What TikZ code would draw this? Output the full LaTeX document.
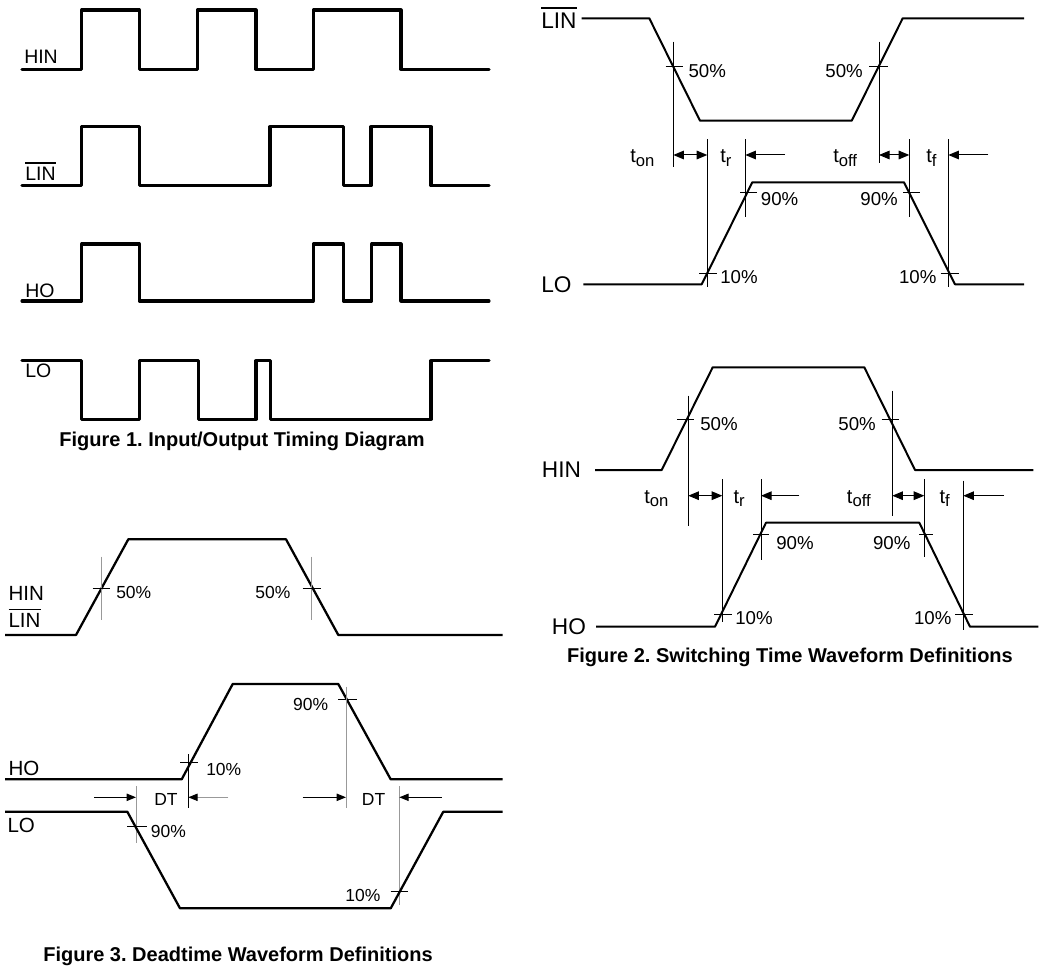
\documentclass[tikz,border=0pt]{standalone}
\usepackage{fontspec}
\setmainfont{Liberation Sans}
\usetikzlibrary{arrows.meta}
\frenchspacing
\newcommand{\ovtext}[3]{\vbox{\hrule height #1\kern #2\hbox{#3}}}
\newcommand{\tsb}[1]{t\raisebox{-2.6pt}{\fontsize{12.5}{12.5}\selectfont #1}}
\begin{document}
\begin{tikzpicture}[x=0.75pt,y=-0.75pt,
  waveA/.style={line width=2.3pt,line join=round,line cap=round},
  waveB/.style={line width=1.5pt,line join=round},
  waveC/.style={line width=1.7pt,line join=round},
  guide/.style={line width=0.75pt},
  gguide/.style={line width=0.75pt,draw=black!40},
  tick/.style={line width=0.75pt},
  arrB/.style={line width=0.75pt,-{Triangle[length=8pt,width=6.5pt]}},
  darrB/.style={line width=0.75pt,{Triangle[length=8pt,width=6.5pt]}-{Triangle[length=8pt,width=6.5pt]}},
  arrC/.style={line width=0.75pt,-{Triangle[length=7pt,width=5.5pt]}},
  lA/.style={anchor=base west,inner sep=0,font=\fontsize{14.6}{14.6}\selectfont},
  lB/.style={anchor=base west,inner sep=0,font=\fontsize{17}{17}\selectfont},
  pB/.style={anchor=base west,inner sep=0,font=\fontsize{14}{14}\selectfont},
  lC/.style={anchor=base west,inner sep=0,font=\fontsize{15.4}{15.4}\selectfont},
  pC/.style={anchor=base west,inner sep=0,font=\fontsize{13.1}{13.1}\selectfont},
  tl/.style={anchor=base west,inner sep=0,font=\fontsize{15}{15}\selectfont},
  capt/.style={anchor=base,inner sep=0,font=\fontsize{15}{15}\selectfont\bfseries}]
\useasboundingbox (0,0) rectangle (1048,973);

% ---------------- Figure 1 ----------------
\draw[waveA] (22,69.3) -| (81.7,10) -| (139.3,69.3) -| (197.3,10) -| (256,69.3) -| (313.3,10) -| (401,69.3) -- (489,69.3);
\draw[waveA] (22,185.7) -| (81.7,126.7) -| (139.3,185.7) -| (270,126.7) -| (343.3,185.7) -| (371,126.7) -| (431,185.7) -- (489,185.7);
\draw[waveA] (22,301) -| (81.7,244) -| (139.3,301) -| (313.3,244) -| (343.3,301) -| (371.7,244) -| (401,301) -- (489,301);
\draw[waveA] (22,360.7) -| (81.7,419.3) -| (139.3,360.7) -| (198.3,419.3) -| (256,360.7) -| (270.7,419.3) -| (431,360.7) -- (489,360.7);
\node[lA] (f1hin) at (24,64) {HIN};
\node[lA] (f1lin) at (25,181) {\ovtext{1.4pt}{2.8pt}{LIN}};
\node[lA] (f1ho) at (25,297) {HO};
\node[lA] (f1lo) at (25,377) {LO};
\node[capt] (cap1) at (242,446) {Figure 1. Input/Output Timing Diagram};

% ---------------- Figure 2 top ----------------
\node[lB] (f2lin) at (541,28.5) {\ovtext{0.9pt}{3.2pt}{LIN}};
\draw[waveB] (581.7,18.3) -- (649.3,18.3) -- (700,120.7) -- (851.7,120.7) -- (902.7,18.3) -- (1024,18.3);
\draw[guide] (673.3,41.7) -- (673.3,166.7);
\draw[tick] (665.7,66.7) -- (683.3,66.7);
\draw[guide] (879,41.7) -- (879,163.3);
\draw[tick] (869,66.7) -- (888,66.7);
\node[pB] (p50a) at (688.3,78) {50\%};
\node[pB,anchor=base east] (p50b) at (863,78) {50\%};
\node[tl] (ton1) at (630,163) {\tsb{on}};
\draw[darrB] (673.3,155) -- (707.3,155);
\draw[guide] (707.3,139.3) -- (707.3,286.7);
\node[tl] (tr1) at (720,163) {\tsb{r}};
\draw[guide] (745.3,139.3) -- (745.3,216.7);
\coordinate (tr1s) at (785,155);
\draw[arrB] (tr1s) -- (745.3,155);
\node[tl] (toff1) at (833,163) {\tsb{off}};
\draw[darrB] (879,155) -- (909.3,155);
\draw[guide] (909.3,139.3) -- (909.3,216.7);
\node[tl] (tf1) at (926,163) {\tsb{f}};
\draw[guide] (948.3,139.3) -- (948.3,286.7);
\coordinate (tf1s) at (988.3,155);
\draw[arrB] (tf1s) -- (948.3,155);
\draw[waveB] (583.3,284.3) -- (701.7,284.3) -- (752.3,182.3) -- (904,182.3) -- (955,284.3) -- (1024,284.3);
\draw[tick] (699,273.3) -- (716.7,273.3);
\draw[tick] (740,192.7) -- (756.7,192.7);
\draw[tick] (903,192.7) -- (920,192.7);
\draw[tick] (940.7,273.3) -- (959.3,273.3);
\node[pB] (p90a) at (760.7,206) {90\%};
\node[pB,anchor=base east] (p90b) at (898,206) {90\%};
\node[pB] (p10a) at (720,284) {10\%};
\node[pB,anchor=base east] (p10b) at (936.7,284) {10\%};
\node[lB] (f2lo) at (541,292.7) {LO};

% ---------------- Figure 2 bottom ----------------
\node[lB] (f2hin) at (541.7,477) {HIN};
\draw[waveB] (595,470) -- (661.7,470) -- (712.7,367.3) -- (864.3,367.3) -- (915,470) -- (1033.3,470);
\draw[guide] (688.3,395.7) -- (688.3,526);
\draw[tick] (677.3,419.3) -- (694,419.3);
\node[pB] (p50c) at (700,430) {50\%};
\draw[guide] (892.3,390.7) -- (892.3,515.7);
\draw[tick] (881.7,419.3) -- (899.3,419.3);
\node[pB,anchor=base east] (p50d) at (876,430) {50\%};
\node[tl] (ton2) at (644,503) {\tsb{on}};
\draw[darrB] (688.3,495.7) -- (722.3,495.7);
\draw[guide] (722.3,479.3) -- (722.3,621.7);
\node[tl] (tr2) at (733.3,503) {\tsb{r}};
\draw[guide] (761,479.3) -- (761,560);
\coordinate (tr2s) at (799.3,495.7);
\draw[arrB] (tr2s) -- (761,495.7);
\node[tl] (toff2) at (846.7,503) {\tsb{off}};
\draw[darrB] (892.3,495.7) -- (924.3,495.7);
\draw[guide] (924.3,479.3) -- (924.3,556.7);
\node[tl] (tf2) at (939.3,503) {\tsb{f}};
\draw[guide] (963.3,480.7) -- (963.3,630);
\coordinate (tf2s) at (1004,495.7);
\draw[arrB] (tf2s) -- (963.3,495.7);
\draw[waveB] (596,626.7) -- (715,626.7) -- (766,522.7) -- (919.3,522.7) -- (970,626.7) -- (1038.3,626.7);
\draw[tick] (753.3,534.3) -- (769.3,534.3);
\draw[tick] (919.3,534.3) -- (933.3,534.3);
\draw[tick] (714.3,614.3) -- (731.7,614.3);
\draw[tick] (955,614.3) -- (973.3,614.3);
\node[pB] (p90c) at (776,549) {90\%};
\node[pB,anchor=base east] (p90d) at (910.7,549) {90\%};
\node[pB] (p10c) at (735,624) {10\%};
\node[pB,anchor=base east] (p10d) at (951.7,624) {10\%};
\node[lB] (f2ho) at (551.7,634) {HO};
\node[capt] (cap2) at (790,662) {Figure 2. Switching Time Waveform Definitions};

% ---------------- Figure 3 ----------------
\node[lC] (f3hin) at (8.3,600.7) {HIN};
\node[lC] (f3lin) at (8.3,627.5) {\ovtext{0.75pt}{2.2pt}{LIN}};
\draw[waveC] (5,635) -- (76,635) -- (128.3,539.3) -- (286,539.3) -- (338.3,635) -- (502.7,635);
\draw[gguide] (101.7,556.7) -- (101.7,620);
\draw[tick] (92.7,588.3) -- (110,588.3);
\node[pC] (p50e) at (116,598.5) {50\%};
\draw[gguide] (311.7,556.7) -- (311.7,620);
\draw[tick] (302.7,588.3) -- (320.7,588.3);
\node[pC,anchor=base east] (p50f) at (290.7,598.5) {50\%};

\draw[waveC] (5,779.3) -- (181.7,779.3) -- (232.7,684) -- (338.3,684) -- (390.7,779.3) -- (502.7,779.3);
\draw[tick] (180,762.7) -- (198.3,762.7);
\draw[guide] (188.3,754) -- (188.3,808.3);
\node[pC] (p10e) at (206,775) {10\%};
\draw[tick] (338.3,699.3) -- (356.7,699.3);
\draw[gguide] (346,686.7) -- (346,808.3);
\node[pC,anchor=base east] (p90e) at (328.3,710.7) {90\%};

\coordinate (dt1s) at (94,797.3);
\draw[arrC] (dt1s) -- (136,797.3);
\draw[gguide] (136,786) -- (136,842.7);
\node[pC] (dt1) at (154,805) {DT};
\coordinate (dt1e) at (228.3,797.3);
\draw[line width=0.75pt,draw=black!40,-{Triangle[length=7pt,width=5.5pt,color=black]}] (dt1e) -- (188.3,797.3);
\coordinate (dt2s) at (302.7,797.3);
\draw[arrC] (dt2s) -- (346,797.3);
\node[pC] (dt2) at (361.7,805) {DT};
\draw[gguide] (399.3,786) -- (399.3,905);
\coordinate (dt2e) at (441.7,797.3);
\draw[arrC] (dt2e) -- (399.3,797.3);

\draw[waveC] (5,811.7) -- (127.3,811.7) -- (180,908.3) -- (390.7,908.3) -- (443.3,811.7) -- (502.7,811.7);
\draw[tick] (127.3,826.7) -- (146.7,826.7);
\draw[tick] (390.7,891.7) -- (408.3,891.7);
\node[pC] (p90f) at (150.7,837) {90\%};
\node[pC,anchor=base east] (p10f) at (380.7,901.7) {10\%};
\node[lC] (f3ho) at (8.3,775) {HO};
\node[lC] (f3lo) at (7.3,832) {LO};
\node[capt] (cap3) at (238,961) {Figure 3. Deadtime Waveform Definitions};
\end{tikzpicture}
\end{document}
